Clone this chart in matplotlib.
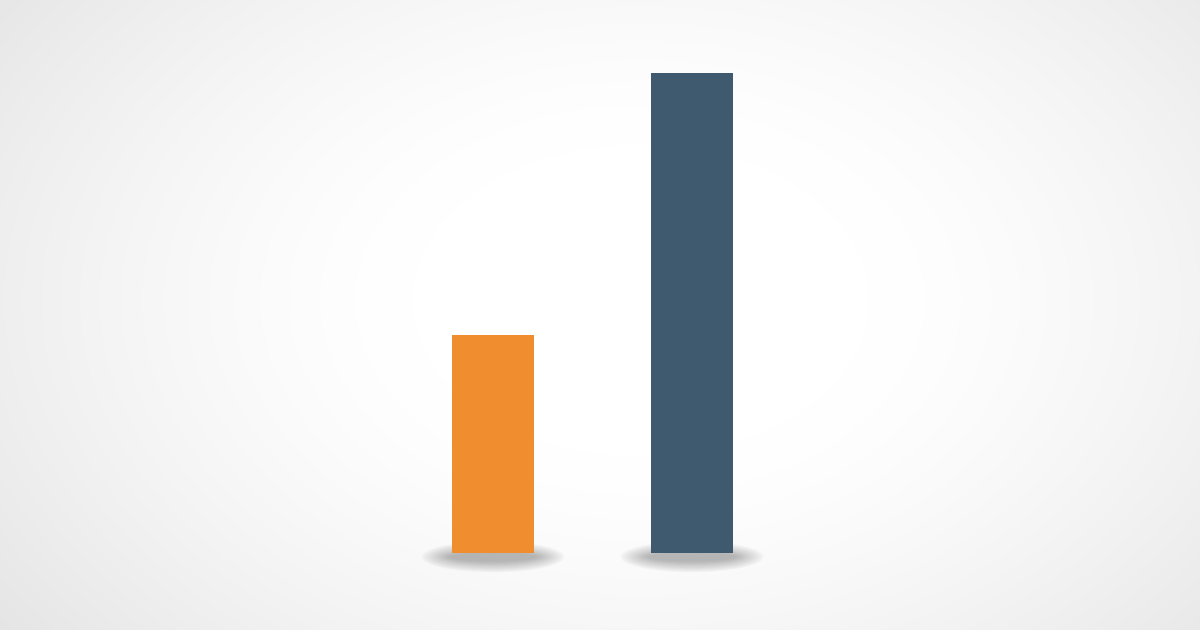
import numpy as np
import matplotlib
matplotlib.use("Agg")
import matplotlib.pyplot as plt
from matplotlib.patches import Ellipse

categories = ["A", "B"]
values = [45.4, 100]
colors = ["#f08d2f", "#3f596e"]

fig = plt.figure(figsize=(12, 6.3), dpi=100)

# background vignette
bg = fig.add_axes([0, 0, 1, 1])
yy, xx = np.mgrid[0:630, 0:1200]
cx, cy = 640, 300
r = np.sqrt(((xx - cx) / 760.0) ** 2 + ((yy - cy) / 520.0) ** 2)
shade = np.clip(1.0 - 0.15 * np.clip(r - 0.3, 0, None) ** 1.4, 0.83, 1.0)
img = np.dstack([shade, shade, shade * 1.004])
img = np.clip(img, 0, 1)
bg.imshow(img, extent=[0, 1, 0, 1], aspect="auto", origin="upper")
bg.axis("off")

ax = fig.add_axes([0, 0, 1, 1])
ax.set_facecolor("none")
x = np.arange(len(categories))
bw = 82 / 199
ax.set_xlim(-493 / 199, (1200 - 493) / 199)
ax.set_ylim(-77 / 4.8, (630 - 77) / 4.8)

# soft shadows
n = 24
for xi in x:
    for k in range(n):
        s = 1 - k / n
        ax.add_patch(Ellipse((xi, -0.8), width=bw * (1.0 + 0.75 * s), height=1.5 + 5.0 * s,
                             facecolor="#5a5a5a", edgecolor="none", alpha=0.02, zorder=1))

ax.bar(x, values, width=bw, color=colors, zorder=3)
ax.axis("off")
fig.savefig("out.png", dpi=100)
